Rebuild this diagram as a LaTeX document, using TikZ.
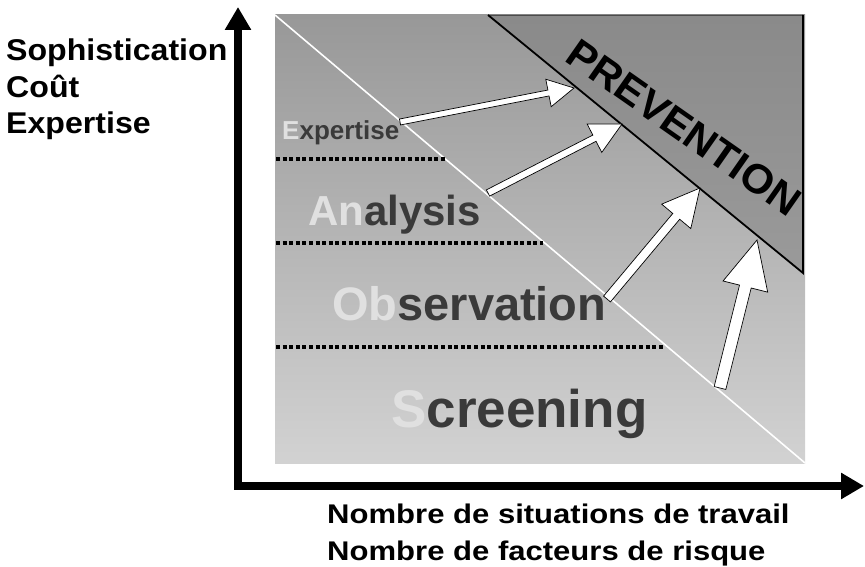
\documentclass[tikz,border=0pt]{standalone}
\usepackage{fontspec}
\setmainfont{Liberation Sans}
\usetikzlibrary{arrows.meta,calc}

\definecolor{paneltop}{RGB}{152,152,152}
\definecolor{panelbottom}{RGB}{210,210,210}
\definecolor{prevtop}{RGB}{138,138,138}
\definecolor{prevbottom}{RGB}{154,154,154}
\definecolor{darkletter}{RGB}{58,58,58}
\definecolor{lightletter}{RGB}{224,224,224}

\newcommand{\lightpart}[1]{\textcolor{lightletter}{#1}}

\begin{document}
\begin{tikzpicture}[x=1pt,y=-1pt,
    axisline/.style={line width=7.5pt,line join=miter,
        arrows={Triangle[width=25pt,length=23pt]-Triangle[width=25pt,length=23pt]}},
    dotrule/.style={line width=3.5pt,dash pattern=on 4pt off 2.6pt},
    arrowbody/.style={fill=white,draw=black,line width=0.7pt,line join=miter},
    bandlabel/.style={anchor=base west,inner sep=0pt,text=darkletter},
    axislabel/.style={anchor=base west,inner sep=0pt,font=\bfseries\fontsize{30}{30}\selectfont}]

\useasboundingbox (0,0) rectangle (865,567);

% panel
\coordinate (p-tl) at (275,15);
\coordinate (p-br) at (805,463);
\fill[top color=paneltop,bottom color=panelbottom] (p-tl) rectangle (p-br);
\draw[white,line width=1.6pt] (p-tl) -- (p-br);

% prevention corner
\coordinate (t-1) at (488,15);
\coordinate (t-2) at (803,15);
\coordinate (t-3) at (803,273);
\fill[top color=prevtop,bottom color=prevbottom] (t-1) -- (t-2) -- (t-3) -- cycle;
\draw[gray!60!black,line width=0.8pt] (t-1) -- (t-2);
\draw[line width=1.8pt] (t-1) -- (t-3) -- (t-2);

\node[anchor=base,inner sep=0pt,rotate=-35,xscale=1.03,font=\bfseries\fontsize{41}{41}\selectfont]
    (prev) at (676,139) {PREVENTION};

% levels
\draw[dotrule] (276,159) -- (445,159);
\draw[dotrule] (276,243) -- (543,243);
\draw[dotrule] (276,347) -- (664,347);

\node[bandlabel,font=\bfseries\fontsize{26}{26}\selectfont] (expert) at (282,140)
    {\lightpart{E}xpertise};
\node[bandlabel,font=\bfseries\fontsize{42}{42}\selectfont] (analys) at (308,225)
    {\lightpart{An}alysis};
\node[bandlabel,font=\bfseries\fontsize{47}{47}\selectfont] (observ) at (332,320)
    {\lightpart{Ob}servation};
\node[bandlabel,font=\bfseries\fontsize{53}{53}\selectfont] (screen) at (391,427)
    {\lightpart{S}creening};

% arrows towards prevention
\coordinate (a1) at (400,122);
\coordinate (b1) at (574,88);
\coordinate (a2) at (488,193);
\coordinate (b2) at (622,124);
\coordinate (a3) at (607,299);
\coordinate (b3) at (700,188);
\coordinate (a4) at (720,388);
\coordinate (b4) at (757,240);

\foreach \i/\s/\w/\l in {1/3pt/14pt/26pt,2/3.5pt/16pt/31pt,3/4.5pt/19pt/37pt,4/6pt/23pt/48pt}
{
    \coordinate (h\i) at ($(b\i)!\l!(a\i)$);
    \filldraw[arrowbody] ($(a\i)!\s!90:(b\i)$) -- ($(h\i)!\s!90:(b\i)$)
        -- ($(h\i)!\w!90:(b\i)$) -- (b\i) -- ($(h\i)!\w!-90:(b\i)$)
        -- ($(h\i)!\s!-90:(b\i)$) -- ($(a\i)!\s!-90:(b\i)$) -- cycle;
}

% axes
\coordinate (o) at (238,486);
\coordinate (ytip) at (238,7);
\coordinate (xtip) at (864,486);
\draw[axisline] (ytip) -- (o) -- (xtip);

\node[axislabel,xscale=1.07] (ylab1) at (6,61) {Sophistication};
\node[axislabel,xscale=1.07] (ylab2) at (6,98) {Coût};
\node[axislabel,xscale=1.07] (ylab3) at (6,134) {Expertise};

\node[axislabel,font=\bfseries\fontsize{27}{27}\selectfont,xscale=1.15] (xlab1) at (327,523)
    {Nombre de situations de travail};
\node[axislabel,font=\bfseries\fontsize{27}{27}\selectfont,xscale=1.15] (xlab2) at (327,560)
    {Nombre de facteurs de risque};

\end{tikzpicture}
\end{document}
